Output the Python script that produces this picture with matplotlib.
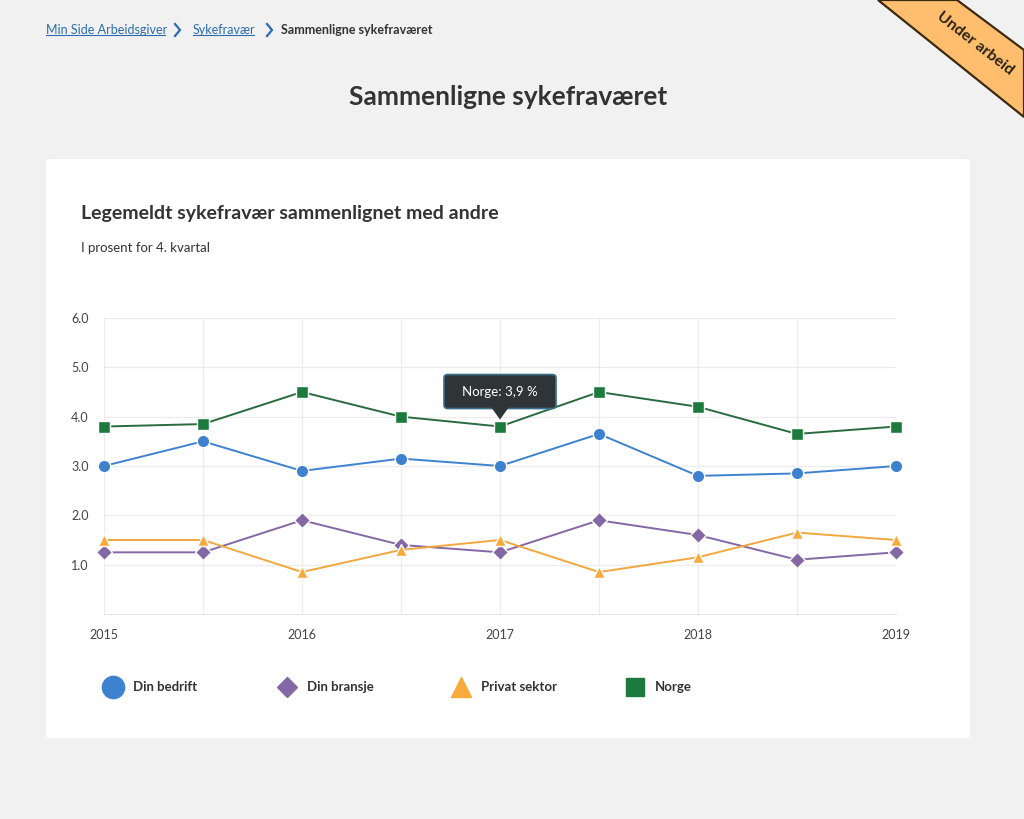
import matplotlib
matplotlib.use("Agg")
import matplotlib.pyplot as plt
from matplotlib.patches import FancyBboxPatch, Polygon
from matplotlib.lines import Line2D

plt.rcParams['font.family'] = ['Lato', 'DejaVu Sans']

# ---- data ----
periods = ["2015", "", "2016", "", "2017", "", "2018", "", "2019"]
din_bedrift = [3.0, 3.5, 2.9, 3.15, 3.0, 3.65, 2.8, 2.85, 3.0]
din_bransje = [1.25, 1.25, 1.9, 1.4, 1.25, 1.9, 1.6, 1.1, 1.25]
privat_sektor = [1.5, 1.5, 0.85, 1.3, 1.5, 0.85, 1.15, 1.65, 1.5]
norge = [3.8, 3.85, 4.5, 4.0, 3.8, 4.5, 4.2, 3.65, 3.8]
y_ticks = [1.0, 2.0, 3.0, 4.0, 5.0, 6.0]
series_names = ["Din bedrift", "Din bransje", "Privat sektor", "Norge"]
tooltip_text = "Norge: 3,9 %"
tooltip_index = 4

W, H = 1024, 819
fig = plt.figure(figsize=(W / 100, H / 100), dpi=100)
fig.patch.set_facecolor("#f1f1f1")

def fx(x):
    return x / W

def fy(y):
    return 1 - y / H

# white card
card = FancyBboxPatch((fx(46), fy(738)), fx(970) - fx(46), fy(159) - fy(738),
                      boxstyle="round,pad=0,rounding_size=0.003",
                      transform=fig.transFigure, facecolor="white",
                      edgecolor="none", zorder=-5)
fig.patches.append(card)

# breadcrumb
blue_link = "#2b6cb0"
dark = "#333333"
bc_y = fy(30)
t1 = fig.text(fx(46), bc_y, "Min Side Arbeidsgiver", color=blue_link, fontsize=9,
              va="center", ha="left")
t2 = fig.text(fx(193), bc_y, "Sykefravær", color=blue_link, fontsize=9,
              va="center", ha="left")
fig.text(fx(281), bc_y, "Sammenligne sykefraværet", color=dark, fontsize=9,
         va="center", ha="left", fontweight="bold")
for cxp in (175, 267):
    fig.lines.append(Line2D([fx(cxp), fx(cxp + 5), fx(cxp)], [fy(24), fy(30), fy(36)],
                            color=blue_link, linewidth=1.6, transform=fig.transFigure,
                            solid_joinstyle="miter"))

# page title
fig.text(fx(508), fy(97), "Sammenligne sykefraværet", color="#333333", fontsize=19,
         fontweight="bold", ha="center", va="center")

# card title and subtitle
fig.text(fx(81), fy(213), "Legemeldt sykefravær sammenlignet med andre", color="#333333",
         fontsize=14, fontweight="bold", ha="left", va="center")
fig.text(fx(81), fy(248), "I prosent for 4. kvartal", color="#333333",
         fontsize=9.5, ha="left", va="center")

# axes
ax = fig.add_axes([fx(104), fy(614), fx(896) - fx(104), fy(318) - fy(614)])
ax.set_zorder(1)
ax.set_facecolor("white")
x = list(range(len(periods)))
ax.set_xlim(0, len(periods) - 1)
ax.set_ylim(0, 6.0)
ax.set_yticks(y_ticks)
ax.set_yticklabels([f"{v:.1f}" for v in y_ticks])
ax.set_xticks(x)
ax.set_xticklabels(periods)
ax.grid(True, color="#ececec", linewidth=0.9)
ax.set_axisbelow(True)
for s in ["top", "right", "left"]:
    ax.spines[s].set_visible(False)
ax.spines["bottom"].set_color("#e8e8e8")
ax.tick_params(axis="both", length=0, labelsize=9, colors="#444444")
ax.tick_params(axis="x", pad=11)
ax.tick_params(axis="y", pad=11)

c_blue = "#3e82cf"
c_purple = "#8467a5"
c_orange = "#f8aa3c"
c_green = "#1c7a3d"

styles = [
    (din_bedrift, c_blue, "o", 9, c_blue),
    (din_bransje, c_purple, "D", 8, c_purple),
    (privat_sektor, c_orange, "^", 9, "#f2a73f"),
    (norge, c_green, "s", 8, "#2a6a3f"),
]
for vals, col, mk, ms, lc in styles:
    ax.plot(x, vals, color=lc, linewidth=1.4, marker=mk, markersize=ms,
            markerfacecolor=col, markeredgecolor="white", markeredgewidth=1.0,
            clip_on=False, zorder=3)

# tooltip
tx, ty = tooltip_index, norge[tooltip_index]
disp = ax.transData.transform((tx, ty))
inv = fig.transFigure.inverted()
px, py = disp
bw, bh = 112, 34
box_bottom = py + 18
box = FancyBboxPatch(inv.transform((px - bw / 2, box_bottom)),
                     bw / W, bh / H,
                     boxstyle="round,pad=0,rounding_size=0.004",
                     transform=fig.transFigure, facecolor="#2f3437",
                     edgecolor="#3a6f8c", linewidth=1.2, zorder=9)
tip = Polygon([inv.transform((px - 9, box_bottom + 1.5)), inv.transform((px + 9, box_bottom + 1.5)),
               inv.transform((px, py + 7))], closed=True,
              transform=fig.transFigure, facecolor="#2f3437", edgecolor="none", zorder=10)
fig.patches.append(box)
fig.patches.append(tip)
cx, cy = inv.transform((px, box_bottom + bh / 2))
fig.text(cx, cy, tooltip_text, color="white", fontsize=9.5, ha="center", va="center",
         zorder=11)

# legend
leg_x = [113, 287, 461, 635]
leg_y = 687
leg_markers = [("o", c_blue, 16), ("D", c_purple, 10), ("^", c_orange, 14), ("s", c_green, 13)]
for name, lx, (mk, col, ms) in zip(series_names, leg_x, leg_markers):
    fig.lines.append(Line2D([fx(lx)], [fy(leg_y)], marker=mk, markersize=ms,
                            markerfacecolor=col, markeredgecolor=col, linestyle="none",
                            transform=fig.transFigure))
    fig.text(fx(lx + 20), fy(leg_y), name, color="#333333", fontsize=9.5,
             fontweight="bold", ha="left", va="center")

# ribbon "Under arbeid"
rib = Polygon([(fx(878), fy(0)), (fx(957), fy(0)), (fx(1024), fy(50)), (fx(1024), fy(117))],
              closed=True, transform=fig.transFigure, facecolor="#ffbe6e",
              edgecolor="#3a2a10", linewidth=1.6, zorder=20)
fig.patches.append(rib)
fig.text(fx(975), fy(44), "Under arbeid", color="#2a2218", fontsize=11.5, fontweight="bold",
         rotation=-38, ha="center", va="center", rotation_mode="anchor", zorder=21)

# underline links
fig.canvas.draw()
r = fig.canvas.get_renderer()
for t in (t1, t2):
    bb = t.get_window_extent(r)
    yline = bb.y0 + 1
    fig.lines.append(Line2D([bb.x0 / W, bb.x1 / W - 2 / W], [yline / H, yline / H],
                            color=blue_link, linewidth=0.8, transform=fig.transFigure))

fig.savefig("out.png", dpi=100, facecolor=fig.get_facecolor())
